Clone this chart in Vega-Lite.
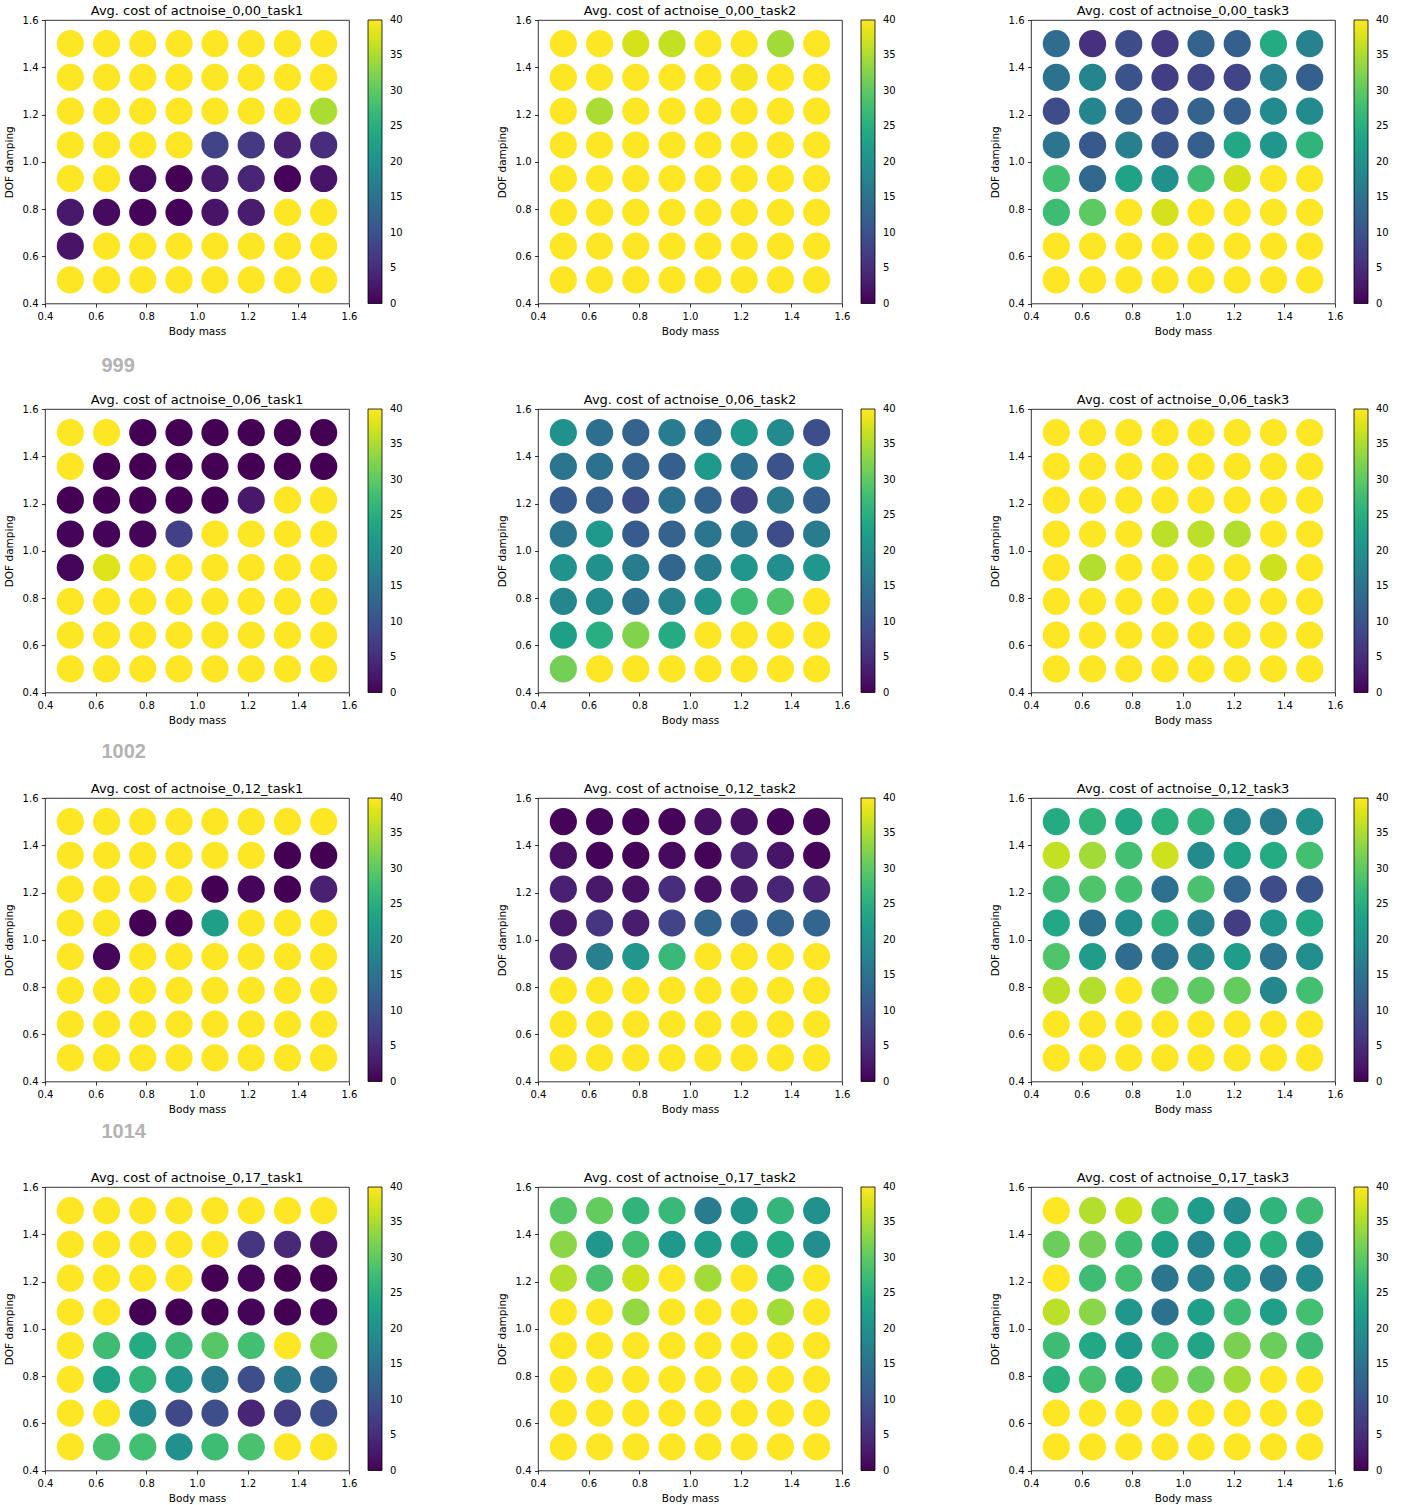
{
  "$schema": "https://vega.github.io/schema/vega-lite/v6.json",
  "background": "white",
  "padding": {"left": 3, "top": 4, "right": 5, "bottom": 3},
  "config": {
    "font": "DejaVu Sans",
    "view": {"stroke": "black", "strokeWidth": 0.8},
    "axis": {"grid": false, "domain": false, "tickSize": 3.5, "tickColor": "black", "tickWidth": 0.8, "labelFontSize": 10, "labelColor": "black", "labelPadding": 3.5, "labelFlush": false, "labelOverlap": false, "titleFontSize": 10.5, "titleFontWeight": "normal", "titleColor": "black"},
    "axisX": {"titlePadding": 5, "labelPadding": 4.5},
    "axisY": {"titlePadding": 8},
    "title": {"fontSize": 13, "fontWeight": "normal", "anchor": "middle", "frame": "group", "offset": -3, "color": "black"},
    "legend": {"gradientLength": 283.5, "gradientThickness": 14, "offset": 19, "labelFontSize": 10, "labelColor": "black", "gradientStrokeColor": "black", "gradientStrokeWidth": 0.8, "labelBaseline": "middle", "labelOverlap": false, "padding": 0},
    "circle": {"size": 740, "opacity": 1}
  },
  "columns": 3,
  "spacing": {"row": 105, "column": 189},
  "bounds": "flush",
  "resolve": {"scale": {"color": "independent"}, "legend": {"color": "independent"}},
  "concat": [
    {
      "width": 304, "height": 283.5,
      "title": "Avg. cost of actnoise_0,00_task1",
      "layer": [
        {
          "data": {"values": [
            {"mass":0.5,"damping":1.5,"cost":40},{"mass":0.643,"damping":1.5,"cost":40},{"mass":0.786,"damping":1.5,"cost":40},{"mass":0.929,"damping":1.5,"cost":40},{"mass":1.071,"damping":1.5,"cost":40},{"mass":1.214,"damping":1.5,"cost":40},{"mass":1.357,"damping":1.5,"cost":40},{"mass":1.5,"damping":1.5,"cost":40},
            {"mass":0.5,"damping":1.357,"cost":40},{"mass":0.643,"damping":1.357,"cost":40},{"mass":0.786,"damping":1.357,"cost":40},{"mass":0.929,"damping":1.357,"cost":40},{"mass":1.071,"damping":1.357,"cost":40},{"mass":1.214,"damping":1.357,"cost":40},{"mass":1.357,"damping":1.357,"cost":40},{"mass":1.5,"damping":1.357,"cost":40},
            {"mass":0.5,"damping":1.214,"cost":40},{"mass":0.643,"damping":1.214,"cost":40},{"mass":0.786,"damping":1.214,"cost":40},{"mass":0.929,"damping":1.214,"cost":40},{"mass":1.071,"damping":1.214,"cost":40},{"mass":1.214,"damping":1.214,"cost":40},{"mass":1.357,"damping":1.214,"cost":40},{"mass":1.5,"damping":1.214,"cost":35},
            {"mass":0.5,"damping":1.071,"cost":40},{"mass":0.643,"damping":1.071,"cost":40},{"mass":0.786,"damping":1.071,"cost":40},{"mass":0.929,"damping":1.071,"cost":40},{"mass":1.071,"damping":1.071,"cost":8},{"mass":1.214,"damping":1.071,"cost":6.5},{"mass":1.357,"damping":1.071,"cost":3.5},{"mass":1.5,"damping":1.071,"cost":5},
            {"mass":0.5,"damping":0.929,"cost":40},{"mass":0.643,"damping":0.929,"cost":40},{"mass":0.786,"damping":0.929,"cost":1},{"mass":0.929,"damping":0.929,"cost":0},{"mass":1.071,"damping":0.929,"cost":2.5},{"mass":1.214,"damping":0.929,"cost":4},{"mass":1.357,"damping":0.929,"cost":0.3},{"mass":1.5,"damping":0.929,"cost":2},
            {"mass":0.5,"damping":0.786,"cost":2.5},{"mass":0.643,"damping":0.786,"cost":1},{"mass":0.786,"damping":0.786,"cost":0.3},{"mass":0.929,"damping":0.786,"cost":0.2},{"mass":1.071,"damping":0.786,"cost":2},{"mass":1.214,"damping":0.786,"cost":3},{"mass":1.357,"damping":0.786,"cost":40},{"mass":1.5,"damping":0.786,"cost":40},
            {"mass":0.5,"damping":0.643,"cost":2},{"mass":0.643,"damping":0.643,"cost":40},{"mass":0.786,"damping":0.643,"cost":40},{"mass":0.929,"damping":0.643,"cost":40},{"mass":1.071,"damping":0.643,"cost":40},{"mass":1.214,"damping":0.643,"cost":40},{"mass":1.357,"damping":0.643,"cost":40},{"mass":1.5,"damping":0.643,"cost":40},
            {"mass":0.5,"damping":0.5,"cost":40},{"mass":0.643,"damping":0.5,"cost":40},{"mass":0.786,"damping":0.5,"cost":40},{"mass":0.929,"damping":0.5,"cost":40},{"mass":1.071,"damping":0.5,"cost":40},{"mass":1.214,"damping":0.5,"cost":40},{"mass":1.357,"damping":0.5,"cost":40},{"mass":1.5,"damping":0.5,"cost":40}
          ]},
          "mark": "circle",
          "encoding": {
            "x": {"field": "mass", "type": "quantitative", "title": "Body mass", "scale": {"domain": [0.4, 1.6], "nice": false, "zero": false}, "axis": {"values": [0.4, 0.6, 0.8, 1.0, 1.2, 1.4, 1.6], "format": ".1f"}},
            "y": {"field": "damping", "type": "quantitative", "title": "DOF damping", "scale": {"domain": [0.4, 1.6], "nice": false, "zero": false}, "axis": {"values": [0.4, 0.6, 0.8, 1.0, 1.2, 1.4, 1.6], "format": ".1f"}},
            "color": {"field": "cost", "type": "quantitative", "scale": {"scheme": "viridis", "domain": [0, 40], "clamp": true}, "legend": {"title": null, "values": [0, 5, 10, 15, 20, 25, 30, 35, 40], "encode": {"labels": {"update": {"baseline": {"value": "middle"}, "dx": {"value": 6}}}}}}
          }
        },
        {
          "data": {"values": [{"seed": "999"}]},
          "mark": {"type": "text", "align": "left", "baseline": "alphabetic", "font": "Liberation Sans", "fontSize": 20, "fontWeight": "bold", "color": "#b3b3b3"},
          "encoding": {"text": {"field": "seed"}, "x": {"datum": 0.623}, "y": {"datum": 0.108}}
        }
      ]
    },
    {
      "width": 304, "height": 283.5,
      "title": "Avg. cost of actnoise_0,00_task2",
      "data": {"values": [
        {"mass":0.5,"damping":1.5,"cost":40},{"mass":0.643,"damping":1.5,"cost":40},{"mass":0.786,"damping":1.5,"cost":37.5},{"mass":0.929,"damping":1.5,"cost":36.5},{"mass":1.071,"damping":1.5,"cost":40},{"mass":1.214,"damping":1.5,"cost":40},{"mass":1.357,"damping":1.5,"cost":34.5},{"mass":1.5,"damping":1.5,"cost":40},
        {"mass":0.5,"damping":1.357,"cost":40},{"mass":0.643,"damping":1.357,"cost":40},{"mass":0.786,"damping":1.357,"cost":40},{"mass":0.929,"damping":1.357,"cost":40},{"mass":1.071,"damping":1.357,"cost":40},{"mass":1.214,"damping":1.357,"cost":39.5},{"mass":1.357,"damping":1.357,"cost":40},{"mass":1.5,"damping":1.357,"cost":40},
        {"mass":0.5,"damping":1.214,"cost":40},{"mass":0.643,"damping":1.214,"cost":35},{"mass":0.786,"damping":1.214,"cost":40},{"mass":0.929,"damping":1.214,"cost":40},{"mass":1.071,"damping":1.214,"cost":40},{"mass":1.214,"damping":1.214,"cost":40},{"mass":1.357,"damping":1.214,"cost":40},{"mass":1.5,"damping":1.214,"cost":40},
        {"mass":0.5,"damping":1.071,"cost":40},{"mass":0.643,"damping":1.071,"cost":40},{"mass":0.786,"damping":1.071,"cost":40},{"mass":0.929,"damping":1.071,"cost":40},{"mass":1.071,"damping":1.071,"cost":40},{"mass":1.214,"damping":1.071,"cost":40},{"mass":1.357,"damping":1.071,"cost":40},{"mass":1.5,"damping":1.071,"cost":40},
        {"mass":0.5,"damping":0.929,"cost":40},{"mass":0.643,"damping":0.929,"cost":40},{"mass":0.786,"damping":0.929,"cost":40},{"mass":0.929,"damping":0.929,"cost":40},{"mass":1.071,"damping":0.929,"cost":40},{"mass":1.214,"damping":0.929,"cost":40},{"mass":1.357,"damping":0.929,"cost":40},{"mass":1.5,"damping":0.929,"cost":40},
        {"mass":0.5,"damping":0.786,"cost":40},{"mass":0.643,"damping":0.786,"cost":40},{"mass":0.786,"damping":0.786,"cost":40},{"mass":0.929,"damping":0.786,"cost":40},{"mass":1.071,"damping":0.786,"cost":40},{"mass":1.214,"damping":0.786,"cost":40},{"mass":1.357,"damping":0.786,"cost":40},{"mass":1.5,"damping":0.786,"cost":40},
        {"mass":0.5,"damping":0.643,"cost":40},{"mass":0.643,"damping":0.643,"cost":40},{"mass":0.786,"damping":0.643,"cost":40},{"mass":0.929,"damping":0.643,"cost":40},{"mass":1.071,"damping":0.643,"cost":40},{"mass":1.214,"damping":0.643,"cost":40},{"mass":1.357,"damping":0.643,"cost":40},{"mass":1.5,"damping":0.643,"cost":40},
        {"mass":0.5,"damping":0.5,"cost":40},{"mass":0.643,"damping":0.5,"cost":40},{"mass":0.786,"damping":0.5,"cost":40},{"mass":0.929,"damping":0.5,"cost":40},{"mass":1.071,"damping":0.5,"cost":40},{"mass":1.214,"damping":0.5,"cost":40},{"mass":1.357,"damping":0.5,"cost":40},{"mass":1.5,"damping":0.5,"cost":40}
      ]},
      "mark": "circle",
      "encoding": {
        "x": {"field": "mass", "type": "quantitative", "title": "Body mass", "scale": {"domain": [0.4, 1.6], "nice": false, "zero": false}, "axis": {"values": [0.4, 0.6, 0.8, 1.0, 1.2, 1.4, 1.6], "format": ".1f"}},
        "y": {"field": "damping", "type": "quantitative", "title": "DOF damping", "scale": {"domain": [0.4, 1.6], "nice": false, "zero": false}, "axis": {"values": [0.4, 0.6, 0.8, 1.0, 1.2, 1.4, 1.6], "format": ".1f"}},
        "color": {"field": "cost", "type": "quantitative", "scale": {"scheme": "viridis", "domain": [0, 40], "clamp": true}, "legend": {"title": null, "values": [0, 5, 10, 15, 20, 25, 30, 35, 40], "encode": {"labels": {"update": {"baseline": {"value": "middle"}, "dx": {"value": 6}}}}}}
      }
    },
    {
      "width": 304, "height": 283.5,
      "title": "Avg. cost of actnoise_0,00_task3",
      "data": {"values": [
        {"mass":0.5,"damping":1.5,"cost":14},{"mass":0.643,"damping":1.5,"cost":5.5},{"mass":0.786,"damping":1.5,"cost":9},{"mass":0.929,"damping":1.5,"cost":6.5},{"mass":1.071,"damping":1.5,"cost":12.5},{"mass":1.214,"damping":1.5,"cost":12},{"mass":1.357,"damping":1.5,"cost":24.5},{"mass":1.5,"damping":1.5,"cost":17.5},
        {"mass":0.5,"damping":1.357,"cost":15},{"mass":0.643,"damping":1.357,"cost":18},{"mass":0.786,"damping":1.357,"cost":10},{"mass":0.929,"damping":1.357,"cost":7},{"mass":1.071,"damping":1.357,"cost":8},{"mass":1.214,"damping":1.357,"cost":8},{"mass":1.357,"damping":1.357,"cost":17.5},{"mass":1.5,"damping":1.357,"cost":12},
        {"mass":0.5,"damping":1.214,"cost":9},{"mass":0.643,"damping":1.214,"cost":18},{"mass":0.786,"damping":1.214,"cost":12},{"mass":0.929,"damping":1.214,"cost":9.5},{"mass":1.071,"damping":1.214,"cost":12.5},{"mass":1.214,"damping":1.214,"cost":12},{"mass":1.357,"damping":1.214,"cost":19},{"mass":1.5,"damping":1.214,"cost":19},
        {"mass":0.5,"damping":1.071,"cost":15.5},{"mass":0.643,"damping":1.071,"cost":11},{"mass":0.786,"damping":1.071,"cost":17},{"mass":0.929,"damping":1.071,"cost":10.5},{"mass":1.071,"damping":1.071,"cost":12},{"mass":1.214,"damping":1.071,"cost":24},{"mass":1.357,"damping":1.071,"cost":21},{"mass":1.5,"damping":1.071,"cost":26},
        {"mass":0.5,"damping":0.929,"cost":28},{"mass":0.643,"damping":0.929,"cost":13.5},{"mass":0.786,"damping":0.929,"cost":23},{"mass":0.929,"damping":0.929,"cost":20},{"mass":1.071,"damping":0.929,"cost":27.5},{"mass":1.214,"damping":0.929,"cost":37.5},{"mass":1.357,"damping":0.929,"cost":40},{"mass":1.5,"damping":0.929,"cost":40},
        {"mass":0.5,"damping":0.786,"cost":27.5},{"mass":0.643,"damping":0.786,"cost":30},{"mass":0.786,"damping":0.786,"cost":40},{"mass":0.929,"damping":0.786,"cost":37.5},{"mass":1.071,"damping":0.786,"cost":40},{"mass":1.214,"damping":0.786,"cost":40},{"mass":1.357,"damping":0.786,"cost":40},{"mass":1.5,"damping":0.786,"cost":40},
        {"mass":0.5,"damping":0.643,"cost":40},{"mass":0.643,"damping":0.643,"cost":40},{"mass":0.786,"damping":0.643,"cost":40},{"mass":0.929,"damping":0.643,"cost":40},{"mass":1.071,"damping":0.643,"cost":40},{"mass":1.214,"damping":0.643,"cost":40},{"mass":1.357,"damping":0.643,"cost":40},{"mass":1.5,"damping":0.643,"cost":40},
        {"mass":0.5,"damping":0.5,"cost":40},{"mass":0.643,"damping":0.5,"cost":40},{"mass":0.786,"damping":0.5,"cost":40},{"mass":0.929,"damping":0.5,"cost":40},{"mass":1.071,"damping":0.5,"cost":40},{"mass":1.214,"damping":0.5,"cost":40},{"mass":1.357,"damping":0.5,"cost":40},{"mass":1.5,"damping":0.5,"cost":40}
      ]},
      "mark": "circle",
      "encoding": {
        "x": {"field": "mass", "type": "quantitative", "title": "Body mass", "scale": {"domain": [0.4, 1.6], "nice": false, "zero": false}, "axis": {"values": [0.4, 0.6, 0.8, 1.0, 1.2, 1.4, 1.6], "format": ".1f"}},
        "y": {"field": "damping", "type": "quantitative", "title": "DOF damping", "scale": {"domain": [0.4, 1.6], "nice": false, "zero": false}, "axis": {"values": [0.4, 0.6, 0.8, 1.0, 1.2, 1.4, 1.6], "format": ".1f"}},
        "color": {"field": "cost", "type": "quantitative", "scale": {"scheme": "viridis", "domain": [0, 40], "clamp": true}, "legend": {"title": null, "values": [0, 5, 10, 15, 20, 25, 30, 35, 40], "encode": {"labels": {"update": {"baseline": {"value": "middle"}, "dx": {"value": 6}}}}}}
      }
    },
    {
      "width": 304, "height": 283.5,
      "title": "Avg. cost of actnoise_0,06_task1",
      "layer": [
        {
          "data": {"values": [
            {"mass":0.5,"damping":1.5,"cost":40},{"mass":0.643,"damping":1.5,"cost":40},{"mass":0.786,"damping":1.5,"cost":0},{"mass":0.929,"damping":1.5,"cost":0},{"mass":1.071,"damping":1.5,"cost":0},{"mass":1.214,"damping":1.5,"cost":0},{"mass":1.357,"damping":1.5,"cost":0},{"mass":1.5,"damping":1.5,"cost":0},
            {"mass":0.5,"damping":1.357,"cost":40},{"mass":0.643,"damping":1.357,"cost":0},{"mass":0.786,"damping":1.357,"cost":0},{"mass":0.929,"damping":1.357,"cost":0},{"mass":1.071,"damping":1.357,"cost":0},{"mass":1.214,"damping":1.357,"cost":0},{"mass":1.357,"damping":1.357,"cost":0},{"mass":1.5,"damping":1.357,"cost":0},
            {"mass":0.5,"damping":1.214,"cost":0},{"mass":0.643,"damping":1.214,"cost":0},{"mass":0.786,"damping":1.214,"cost":0},{"mass":0.929,"damping":1.214,"cost":0},{"mass":1.071,"damping":1.214,"cost":0},{"mass":1.214,"damping":1.214,"cost":2.5},{"mass":1.357,"damping":1.214,"cost":40},{"mass":1.5,"damping":1.214,"cost":40},
            {"mass":0.5,"damping":1.071,"cost":0.3},{"mass":0.643,"damping":1.071,"cost":0.3},{"mass":0.786,"damping":1.071,"cost":0.3},{"mass":0.929,"damping":1.071,"cost":7.5},{"mass":1.071,"damping":1.071,"cost":40},{"mass":1.214,"damping":1.071,"cost":40},{"mass":1.357,"damping":1.071,"cost":40},{"mass":1.5,"damping":1.071,"cost":40},
            {"mass":0.5,"damping":0.929,"cost":0.5},{"mass":0.643,"damping":0.929,"cost":38},{"mass":0.786,"damping":0.929,"cost":40},{"mass":0.929,"damping":0.929,"cost":40},{"mass":1.071,"damping":0.929,"cost":40},{"mass":1.214,"damping":0.929,"cost":40},{"mass":1.357,"damping":0.929,"cost":40},{"mass":1.5,"damping":0.929,"cost":40},
            {"mass":0.5,"damping":0.786,"cost":40},{"mass":0.643,"damping":0.786,"cost":40},{"mass":0.786,"damping":0.786,"cost":40},{"mass":0.929,"damping":0.786,"cost":40},{"mass":1.071,"damping":0.786,"cost":40},{"mass":1.214,"damping":0.786,"cost":40},{"mass":1.357,"damping":0.786,"cost":40},{"mass":1.5,"damping":0.786,"cost":40},
            {"mass":0.5,"damping":0.643,"cost":40},{"mass":0.643,"damping":0.643,"cost":40},{"mass":0.786,"damping":0.643,"cost":40},{"mass":0.929,"damping":0.643,"cost":40},{"mass":1.071,"damping":0.643,"cost":40},{"mass":1.214,"damping":0.643,"cost":40},{"mass":1.357,"damping":0.643,"cost":40},{"mass":1.5,"damping":0.643,"cost":40},
            {"mass":0.5,"damping":0.5,"cost":40},{"mass":0.643,"damping":0.5,"cost":40},{"mass":0.786,"damping":0.5,"cost":40},{"mass":0.929,"damping":0.5,"cost":40},{"mass":1.071,"damping":0.5,"cost":40},{"mass":1.214,"damping":0.5,"cost":40},{"mass":1.357,"damping":0.5,"cost":40},{"mass":1.5,"damping":0.5,"cost":40}
          ]},
          "mark": "circle",
          "encoding": {
            "x": {"field": "mass", "type": "quantitative", "title": "Body mass", "scale": {"domain": [0.4, 1.6], "nice": false, "zero": false}, "axis": {"values": [0.4, 0.6, 0.8, 1.0, 1.2, 1.4, 1.6], "format": ".1f"}},
            "y": {"field": "damping", "type": "quantitative", "title": "DOF damping", "scale": {"domain": [0.4, 1.6], "nice": false, "zero": false}, "axis": {"values": [0.4, 0.6, 0.8, 1.0, 1.2, 1.4, 1.6], "format": ".1f"}},
            "color": {"field": "cost", "type": "quantitative", "scale": {"scheme": "viridis", "domain": [0, 40], "clamp": true}, "legend": {"title": null, "values": [0, 5, 10, 15, 20, 25, 30, 35, 40], "encode": {"labels": {"update": {"baseline": {"value": "middle"}, "dx": {"value": 6}}}}}}
          }
        },
        {
          "data": {"values": [{"seed": "1002"}]},
          "mark": {"type": "text", "align": "left", "baseline": "alphabetic", "font": "Liberation Sans", "fontSize": 20, "fontWeight": "bold", "color": "#b3b3b3"},
          "encoding": {"text": {"field": "seed"}, "x": {"datum": 0.623}, "y": {"datum": 0.121}}
        }
      ]
    },
    {
      "width": 304, "height": 283.5,
      "title": "Avg. cost of actnoise_0,06_task2",
      "data": {"values": [
        {"mass":0.5,"damping":1.5,"cost":20},{"mass":0.643,"damping":1.5,"cost":14.5},{"mass":0.786,"damping":1.5,"cost":12.5},{"mass":0.929,"damping":1.5,"cost":16.5},{"mass":1.071,"damping":1.5,"cost":14.5},{"mass":1.214,"damping":1.5,"cost":21.5},{"mass":1.357,"damping":1.5,"cost":19},{"mass":1.5,"damping":1.5,"cost":9.5},
        {"mass":0.5,"damping":1.357,"cost":15.5},{"mass":0.643,"damping":1.357,"cost":15},{"mass":0.786,"damping":1.357,"cost":12.5},{"mass":0.929,"damping":1.357,"cost":12},{"mass":1.071,"damping":1.357,"cost":21.5},{"mass":1.214,"damping":1.357,"cost":14.5},{"mass":1.357,"damping":1.357,"cost":10},{"mass":1.5,"damping":1.357,"cost":20},
        {"mass":0.5,"damping":1.214,"cost":11.5},{"mass":0.643,"damping":1.214,"cost":12},{"mass":0.786,"damping":1.214,"cost":9.5},{"mass":0.929,"damping":1.214,"cost":15},{"mass":1.071,"damping":1.214,"cost":12.5},{"mass":1.214,"damping":1.214,"cost":7},{"mass":1.357,"damping":1.214,"cost":16.5},{"mass":1.5,"damping":1.214,"cost":12},
        {"mass":0.5,"damping":1.071,"cost":15.5},{"mass":0.643,"damping":1.071,"cost":21.5},{"mass":0.786,"damping":1.071,"cost":11.5},{"mass":0.929,"damping":1.071,"cost":12.5},{"mass":1.071,"damping":1.071,"cost":15.5},{"mass":1.214,"damping":1.071,"cost":15.5},{"mass":1.357,"damping":1.071,"cost":9},{"mass":1.5,"damping":1.071,"cost":16.5},
        {"mass":0.5,"damping":0.929,"cost":20.5},{"mass":0.643,"damping":0.929,"cost":20},{"mass":0.786,"damping":0.929,"cost":16.5},{"mass":0.929,"damping":0.929,"cost":13},{"mass":1.071,"damping":0.929,"cost":16.5},{"mass":1.214,"damping":0.929,"cost":21},{"mass":1.357,"damping":0.929,"cost":19.5},{"mass":1.5,"damping":0.929,"cost":21},
        {"mass":0.5,"damping":0.786,"cost":18.5},{"mass":0.643,"damping":0.786,"cost":19},{"mass":0.786,"damping":0.786,"cost":15},{"mass":0.929,"damping":0.786,"cost":17.5},{"mass":1.071,"damping":0.786,"cost":20.5},{"mass":1.214,"damping":0.786,"cost":27.5},{"mass":1.357,"damping":0.786,"cost":29},{"mass":1.5,"damping":0.786,"cost":40},
        {"mass":0.5,"damping":0.643,"cost":22.5},{"mass":0.643,"damping":0.643,"cost":25},{"mass":0.786,"damping":0.643,"cost":32.5},{"mass":0.929,"damping":0.643,"cost":24.5},{"mass":1.071,"damping":0.643,"cost":40},{"mass":1.214,"damping":0.643,"cost":40},{"mass":1.357,"damping":0.643,"cost":40},{"mass":1.5,"damping":0.643,"cost":40},
        {"mass":0.5,"damping":0.5,"cost":31.5},{"mass":0.643,"damping":0.5,"cost":40},{"mass":0.786,"damping":0.5,"cost":40},{"mass":0.929,"damping":0.5,"cost":40},{"mass":1.071,"damping":0.5,"cost":40},{"mass":1.214,"damping":0.5,"cost":40},{"mass":1.357,"damping":0.5,"cost":40},{"mass":1.5,"damping":0.5,"cost":40}
      ]},
      "mark": "circle",
      "encoding": {
        "x": {"field": "mass", "type": "quantitative", "title": "Body mass", "scale": {"domain": [0.4, 1.6], "nice": false, "zero": false}, "axis": {"values": [0.4, 0.6, 0.8, 1.0, 1.2, 1.4, 1.6], "format": ".1f"}},
        "y": {"field": "damping", "type": "quantitative", "title": "DOF damping", "scale": {"domain": [0.4, 1.6], "nice": false, "zero": false}, "axis": {"values": [0.4, 0.6, 0.8, 1.0, 1.2, 1.4, 1.6], "format": ".1f"}},
        "color": {"field": "cost", "type": "quantitative", "scale": {"scheme": "viridis", "domain": [0, 40], "clamp": true}, "legend": {"title": null, "values": [0, 5, 10, 15, 20, 25, 30, 35, 40], "encode": {"labels": {"update": {"baseline": {"value": "middle"}, "dx": {"value": 6}}}}}}
      }
    },
    {
      "width": 304, "height": 283.5,
      "title": "Avg. cost of actnoise_0,06_task3",
      "data": {"values": [
        {"mass":0.5,"damping":1.5,"cost":40},{"mass":0.643,"damping":1.5,"cost":40},{"mass":0.786,"damping":1.5,"cost":40},{"mass":0.929,"damping":1.5,"cost":40},{"mass":1.071,"damping":1.5,"cost":40},{"mass":1.214,"damping":1.5,"cost":40},{"mass":1.357,"damping":1.5,"cost":40},{"mass":1.5,"damping":1.5,"cost":40},
        {"mass":0.5,"damping":1.357,"cost":40},{"mass":0.643,"damping":1.357,"cost":40},{"mass":0.786,"damping":1.357,"cost":40},{"mass":0.929,"damping":1.357,"cost":40},{"mass":1.071,"damping":1.357,"cost":40},{"mass":1.214,"damping":1.357,"cost":40},{"mass":1.357,"damping":1.357,"cost":40},{"mass":1.5,"damping":1.357,"cost":40},
        {"mass":0.5,"damping":1.214,"cost":40},{"mass":0.643,"damping":1.214,"cost":40},{"mass":0.786,"damping":1.214,"cost":40},{"mass":0.929,"damping":1.214,"cost":40},{"mass":1.071,"damping":1.214,"cost":40},{"mass":1.214,"damping":1.214,"cost":40},{"mass":1.357,"damping":1.214,"cost":40},{"mass":1.5,"damping":1.214,"cost":40},
        {"mass":0.5,"damping":1.071,"cost":40},{"mass":0.643,"damping":1.071,"cost":40},{"mass":0.786,"damping":1.071,"cost":40},{"mass":0.929,"damping":1.071,"cost":36},{"mass":1.071,"damping":1.071,"cost":36},{"mass":1.214,"damping":1.071,"cost":35.5},{"mass":1.357,"damping":1.071,"cost":40},{"mass":1.5,"damping":1.071,"cost":40},
        {"mass":0.5,"damping":0.929,"cost":40},{"mass":0.643,"damping":0.929,"cost":35.5},{"mass":0.786,"damping":0.929,"cost":40},{"mass":0.929,"damping":0.929,"cost":40},{"mass":1.071,"damping":0.929,"cost":40},{"mass":1.214,"damping":0.929,"cost":40},{"mass":1.357,"damping":0.929,"cost":37},{"mass":1.5,"damping":0.929,"cost":40},
        {"mass":0.5,"damping":0.786,"cost":40},{"mass":0.643,"damping":0.786,"cost":40},{"mass":0.786,"damping":0.786,"cost":40},{"mass":0.929,"damping":0.786,"cost":40},{"mass":1.071,"damping":0.786,"cost":40},{"mass":1.214,"damping":0.786,"cost":40},{"mass":1.357,"damping":0.786,"cost":40},{"mass":1.5,"damping":0.786,"cost":40},
        {"mass":0.5,"damping":0.643,"cost":40},{"mass":0.643,"damping":0.643,"cost":40},{"mass":0.786,"damping":0.643,"cost":40},{"mass":0.929,"damping":0.643,"cost":40},{"mass":1.071,"damping":0.643,"cost":40},{"mass":1.214,"damping":0.643,"cost":40},{"mass":1.357,"damping":0.643,"cost":40},{"mass":1.5,"damping":0.643,"cost":40},
        {"mass":0.5,"damping":0.5,"cost":40},{"mass":0.643,"damping":0.5,"cost":40},{"mass":0.786,"damping":0.5,"cost":40},{"mass":0.929,"damping":0.5,"cost":40},{"mass":1.071,"damping":0.5,"cost":40},{"mass":1.214,"damping":0.5,"cost":40},{"mass":1.357,"damping":0.5,"cost":40},{"mass":1.5,"damping":0.5,"cost":40}
      ]},
      "mark": "circle",
      "encoding": {
        "x": {"field": "mass", "type": "quantitative", "title": "Body mass", "scale": {"domain": [0.4, 1.6], "nice": false, "zero": false}, "axis": {"values": [0.4, 0.6, 0.8, 1.0, 1.2, 1.4, 1.6], "format": ".1f"}},
        "y": {"field": "damping", "type": "quantitative", "title": "DOF damping", "scale": {"domain": [0.4, 1.6], "nice": false, "zero": false}, "axis": {"values": [0.4, 0.6, 0.8, 1.0, 1.2, 1.4, 1.6], "format": ".1f"}},
        "color": {"field": "cost", "type": "quantitative", "scale": {"scheme": "viridis", "domain": [0, 40], "clamp": true}, "legend": {"title": null, "values": [0, 5, 10, 15, 20, 25, 30, 35, 40], "encode": {"labels": {"update": {"baseline": {"value": "middle"}, "dx": {"value": 6}}}}}}
      }
    },
    {
      "width": 304, "height": 283.5,
      "title": "Avg. cost of actnoise_0,12_task1",
      "layer": [
        {
          "data": {"values": [
            {"mass":0.5,"damping":1.5,"cost":40},{"mass":0.643,"damping":1.5,"cost":40},{"mass":0.786,"damping":1.5,"cost":40},{"mass":0.929,"damping":1.5,"cost":40},{"mass":1.071,"damping":1.5,"cost":40},{"mass":1.214,"damping":1.5,"cost":40},{"mass":1.357,"damping":1.5,"cost":40},{"mass":1.5,"damping":1.5,"cost":40},
            {"mass":0.5,"damping":1.357,"cost":40},{"mass":0.643,"damping":1.357,"cost":40},{"mass":0.786,"damping":1.357,"cost":40},{"mass":0.929,"damping":1.357,"cost":40},{"mass":1.071,"damping":1.357,"cost":40},{"mass":1.214,"damping":1.357,"cost":40},{"mass":1.357,"damping":1.357,"cost":0},{"mass":1.5,"damping":1.357,"cost":0},
            {"mass":0.5,"damping":1.214,"cost":40},{"mass":0.643,"damping":1.214,"cost":40},{"mass":0.786,"damping":1.214,"cost":40},{"mass":0.929,"damping":1.214,"cost":40},{"mass":1.071,"damping":1.214,"cost":0},{"mass":1.214,"damping":1.214,"cost":0.5},{"mass":1.357,"damping":1.214,"cost":0},{"mass":1.5,"damping":1.214,"cost":3.5},
            {"mass":0.5,"damping":1.071,"cost":40},{"mass":0.643,"damping":1.071,"cost":40},{"mass":0.786,"damping":1.071,"cost":0},{"mass":0.929,"damping":1.071,"cost":0},{"mass":1.071,"damping":1.071,"cost":22.5},{"mass":1.214,"damping":1.071,"cost":40},{"mass":1.357,"damping":1.071,"cost":40},{"mass":1.5,"damping":1.071,"cost":40},
            {"mass":0.5,"damping":0.929,"cost":40},{"mass":0.643,"damping":0.929,"cost":0.5},{"mass":0.786,"damping":0.929,"cost":40},{"mass":0.929,"damping":0.929,"cost":40},{"mass":1.071,"damping":0.929,"cost":40},{"mass":1.214,"damping":0.929,"cost":40},{"mass":1.357,"damping":0.929,"cost":40},{"mass":1.5,"damping":0.929,"cost":40},
            {"mass":0.5,"damping":0.786,"cost":40},{"mass":0.643,"damping":0.786,"cost":40},{"mass":0.786,"damping":0.786,"cost":40},{"mass":0.929,"damping":0.786,"cost":40},{"mass":1.071,"damping":0.786,"cost":40},{"mass":1.214,"damping":0.786,"cost":40},{"mass":1.357,"damping":0.786,"cost":40},{"mass":1.5,"damping":0.786,"cost":40},
            {"mass":0.5,"damping":0.643,"cost":40},{"mass":0.643,"damping":0.643,"cost":40},{"mass":0.786,"damping":0.643,"cost":40},{"mass":0.929,"damping":0.643,"cost":40},{"mass":1.071,"damping":0.643,"cost":40},{"mass":1.214,"damping":0.643,"cost":40},{"mass":1.357,"damping":0.643,"cost":40},{"mass":1.5,"damping":0.643,"cost":40},
            {"mass":0.5,"damping":0.5,"cost":40},{"mass":0.643,"damping":0.5,"cost":40},{"mass":0.786,"damping":0.5,"cost":40},{"mass":0.929,"damping":0.5,"cost":40},{"mass":1.071,"damping":0.5,"cost":40},{"mass":1.214,"damping":0.5,"cost":40},{"mass":1.357,"damping":0.5,"cost":40},{"mass":1.5,"damping":0.5,"cost":40}
          ]},
          "mark": "circle",
          "encoding": {
            "x": {"field": "mass", "type": "quantitative", "title": "Body mass", "scale": {"domain": [0.4, 1.6], "nice": false, "zero": false}, "axis": {"values": [0.4, 0.6, 0.8, 1.0, 1.2, 1.4, 1.6], "format": ".1f"}},
            "y": {"field": "damping", "type": "quantitative", "title": "DOF damping", "scale": {"domain": [0.4, 1.6], "nice": false, "zero": false}, "axis": {"values": [0.4, 0.6, 0.8, 1.0, 1.2, 1.4, 1.6], "format": ".1f"}},
            "color": {"field": "cost", "type": "quantitative", "scale": {"scheme": "viridis", "domain": [0, 40], "clamp": true}, "legend": {"title": null, "values": [0, 5, 10, 15, 20, 25, 30, 35, 40], "encode": {"labels": {"update": {"baseline": {"value": "middle"}, "dx": {"value": 6}}}}}}
          }
        },
        {
          "data": {"values": [{"seed": "1014"}]},
          "mark": {"type": "text", "align": "left", "baseline": "alphabetic", "font": "Liberation Sans", "fontSize": 20, "fontWeight": "bold", "color": "#b3b3b3"},
          "encoding": {"text": {"field": "seed"}, "x": {"datum": 0.623}, "y": {"datum": 0.159}}
        }
      ]
    },
    {
      "width": 304, "height": 283.5,
      "title": "Avg. cost of actnoise_0,12_task2",
      "data": {"values": [
        {"mass":0.5,"damping":1.5,"cost":0.3},{"mass":0.643,"damping":1.5,"cost":0.5},{"mass":0.786,"damping":1.5,"cost":0.3},{"mass":0.929,"damping":1.5,"cost":0.3},{"mass":1.071,"damping":1.5,"cost":1.5},{"mass":1.214,"damping":1.5,"cost":1.5},{"mass":1.357,"damping":1.5,"cost":0.3},{"mass":1.5,"damping":1.5,"cost":0.5},
        {"mass":0.5,"damping":1.357,"cost":1.5},{"mass":0.643,"damping":1.357,"cost":0.3},{"mass":0.786,"damping":1.357,"cost":0.3},{"mass":0.929,"damping":1.357,"cost":1},{"mass":1.071,"damping":1.357,"cost":0.3},{"mass":1.214,"damping":1.357,"cost":3.5},{"mass":1.357,"damping":1.357,"cost":2},{"mass":1.5,"damping":1.357,"cost":0.5},
        {"mass":0.5,"damping":1.214,"cost":3.5},{"mass":0.643,"damping":1.214,"cost":2.5},{"mass":0.786,"damping":1.214,"cost":1.5},{"mass":0.929,"damping":1.214,"cost":5},{"mass":1.071,"damping":1.214,"cost":1.5},{"mass":1.214,"damping":1.214,"cost":3},{"mass":1.357,"damping":1.214,"cost":4},{"mass":1.5,"damping":1.214,"cost":3.5},
        {"mass":0.5,"damping":1.071,"cost":2.5},{"mass":0.643,"damping":1.071,"cost":6},{"mass":0.786,"damping":1.071,"cost":3},{"mass":0.929,"damping":1.071,"cost":8},{"mass":1.071,"damping":1.071,"cost":13},{"mass":1.214,"damping":1.071,"cost":11.5},{"mass":1.357,"damping":1.071,"cost":12.5},{"mass":1.5,"damping":1.071,"cost":13},
        {"mass":0.5,"damping":0.929,"cost":3.5},{"mass":0.643,"damping":0.929,"cost":17},{"mass":0.786,"damping":0.929,"cost":21},{"mass":0.929,"damping":0.929,"cost":27},{"mass":1.071,"damping":0.929,"cost":40},{"mass":1.214,"damping":0.929,"cost":40},{"mass":1.357,"damping":0.929,"cost":40},{"mass":1.5,"damping":0.929,"cost":40},
        {"mass":0.5,"damping":0.786,"cost":40},{"mass":0.643,"damping":0.786,"cost":40},{"mass":0.786,"damping":0.786,"cost":40},{"mass":0.929,"damping":0.786,"cost":40},{"mass":1.071,"damping":0.786,"cost":40},{"mass":1.214,"damping":0.786,"cost":40},{"mass":1.357,"damping":0.786,"cost":40},{"mass":1.5,"damping":0.786,"cost":40},
        {"mass":0.5,"damping":0.643,"cost":40},{"mass":0.643,"damping":0.643,"cost":40},{"mass":0.786,"damping":0.643,"cost":40},{"mass":0.929,"damping":0.643,"cost":40},{"mass":1.071,"damping":0.643,"cost":40},{"mass":1.214,"damping":0.643,"cost":40},{"mass":1.357,"damping":0.643,"cost":40},{"mass":1.5,"damping":0.643,"cost":40},
        {"mass":0.5,"damping":0.5,"cost":40},{"mass":0.643,"damping":0.5,"cost":40},{"mass":0.786,"damping":0.5,"cost":40},{"mass":0.929,"damping":0.5,"cost":40},{"mass":1.071,"damping":0.5,"cost":40},{"mass":1.214,"damping":0.5,"cost":40},{"mass":1.357,"damping":0.5,"cost":40},{"mass":1.5,"damping":0.5,"cost":40}
      ]},
      "mark": "circle",
      "encoding": {
        "x": {"field": "mass", "type": "quantitative", "title": "Body mass", "scale": {"domain": [0.4, 1.6], "nice": false, "zero": false}, "axis": {"values": [0.4, 0.6, 0.8, 1.0, 1.2, 1.4, 1.6], "format": ".1f"}},
        "y": {"field": "damping", "type": "quantitative", "title": "DOF damping", "scale": {"domain": [0.4, 1.6], "nice": false, "zero": false}, "axis": {"values": [0.4, 0.6, 0.8, 1.0, 1.2, 1.4, 1.6], "format": ".1f"}},
        "color": {"field": "cost", "type": "quantitative", "scale": {"scheme": "viridis", "domain": [0, 40], "clamp": true}, "legend": {"title": null, "values": [0, 5, 10, 15, 20, 25, 30, 35, 40], "encode": {"labels": {"update": {"baseline": {"value": "middle"}, "dx": {"value": 6}}}}}}
      }
    },
    {
      "width": 304, "height": 283.5,
      "title": "Avg. cost of actnoise_0,12_task3",
      "data": {"values": [
        {"mass":0.5,"damping":1.5,"cost":24.5},{"mass":0.643,"damping":1.5,"cost":26},{"mass":0.786,"damping":1.5,"cost":24},{"mass":0.929,"damping":1.5,"cost":25.5},{"mass":1.071,"damping":1.5,"cost":26},{"mass":1.214,"damping":1.5,"cost":18},{"mass":1.357,"damping":1.5,"cost":16.5},{"mass":1.5,"damping":1.5,"cost":20},
        {"mass":0.5,"damping":1.357,"cost":36.5},{"mass":0.643,"damping":1.357,"cost":34.5},{"mass":0.786,"damping":1.357,"cost":28},{"mass":0.929,"damping":1.357,"cost":37},{"mass":1.071,"damping":1.357,"cost":19},{"mass":1.214,"damping":1.357,"cost":23},{"mass":1.357,"damping":1.357,"cost":24.5},{"mass":1.5,"damping":1.357,"cost":28},
        {"mass":0.5,"damping":1.214,"cost":27.5},{"mass":0.643,"damping":1.214,"cost":29},{"mass":0.786,"damping":1.214,"cost":28},{"mass":0.929,"damping":1.214,"cost":15},{"mass":1.071,"damping":1.214,"cost":28.5},{"mass":1.214,"damping":1.214,"cost":13},{"mass":1.357,"damping":1.214,"cost":9},{"mass":1.5,"damping":1.214,"cost":10.5},
        {"mass":0.5,"damping":1.071,"cost":24},{"mass":0.643,"damping":1.071,"cost":15},{"mass":0.786,"damping":1.071,"cost":19.5},{"mass":0.929,"damping":1.071,"cost":26},{"mass":1.071,"damping":1.071,"cost":17.5},{"mass":1.214,"damping":1.071,"cost":7},{"mass":1.357,"damping":1.071,"cost":21},{"mass":1.5,"damping":1.071,"cost":24},
        {"mass":0.5,"damping":0.929,"cost":29},{"mass":0.643,"damping":0.929,"cost":22},{"mass":0.786,"damping":0.929,"cost":14},{"mass":0.929,"damping":0.929,"cost":15},{"mass":1.071,"damping":0.929,"cost":18.5},{"mass":1.214,"damping":0.929,"cost":22},{"mass":1.357,"damping":0.929,"cost":15.5},{"mass":1.5,"damping":0.929,"cost":19.5},
        {"mass":0.5,"damping":0.786,"cost":36},{"mass":0.643,"damping":0.786,"cost":35.5},{"mass":0.786,"damping":0.786,"cost":40},{"mass":0.929,"damping":0.786,"cost":30.5},{"mass":1.071,"damping":0.786,"cost":30},{"mass":1.214,"damping":0.786,"cost":30.5},{"mass":1.357,"damping":0.786,"cost":18.5},{"mass":1.5,"damping":0.786,"cost":28},
        {"mass":0.5,"damping":0.643,"cost":40},{"mass":0.643,"damping":0.643,"cost":40},{"mass":0.786,"damping":0.643,"cost":40},{"mass":0.929,"damping":0.643,"cost":40},{"mass":1.071,"damping":0.643,"cost":40},{"mass":1.214,"damping":0.643,"cost":40},{"mass":1.357,"damping":0.643,"cost":40},{"mass":1.5,"damping":0.643,"cost":40},
        {"mass":0.5,"damping":0.5,"cost":40},{"mass":0.643,"damping":0.5,"cost":40},{"mass":0.786,"damping":0.5,"cost":40},{"mass":0.929,"damping":0.5,"cost":40},{"mass":1.071,"damping":0.5,"cost":40},{"mass":1.214,"damping":0.5,"cost":40},{"mass":1.357,"damping":0.5,"cost":40},{"mass":1.5,"damping":0.5,"cost":40}
      ]},
      "mark": "circle",
      "encoding": {
        "x": {"field": "mass", "type": "quantitative", "title": "Body mass", "scale": {"domain": [0.4, 1.6], "nice": false, "zero": false}, "axis": {"values": [0.4, 0.6, 0.8, 1.0, 1.2, 1.4, 1.6], "format": ".1f"}},
        "y": {"field": "damping", "type": "quantitative", "title": "DOF damping", "scale": {"domain": [0.4, 1.6], "nice": false, "zero": false}, "axis": {"values": [0.4, 0.6, 0.8, 1.0, 1.2, 1.4, 1.6], "format": ".1f"}},
        "color": {"field": "cost", "type": "quantitative", "scale": {"scheme": "viridis", "domain": [0, 40], "clamp": true}, "legend": {"title": null, "values": [0, 5, 10, 15, 20, 25, 30, 35, 40], "encode": {"labels": {"update": {"baseline": {"value": "middle"}, "dx": {"value": 6}}}}}}
      }
    },
    {
      "width": 304, "height": 283.5,
      "title": "Avg. cost of actnoise_0,17_task1",
      "data": {"values": [
        {"mass":0.5,"damping":1.5,"cost":40},{"mass":0.643,"damping":1.5,"cost":40},{"mass":0.786,"damping":1.5,"cost":40},{"mass":0.929,"damping":1.5,"cost":40},{"mass":1.071,"damping":1.5,"cost":40},{"mass":1.214,"damping":1.5,"cost":40},{"mass":1.357,"damping":1.5,"cost":40},{"mass":1.5,"damping":1.5,"cost":40},
        {"mass":0.5,"damping":1.357,"cost":40},{"mass":0.643,"damping":1.357,"cost":40},{"mass":0.786,"damping":1.357,"cost":40},{"mass":0.929,"damping":1.357,"cost":40},{"mass":1.071,"damping":1.357,"cost":40},{"mass":1.214,"damping":1.357,"cost":6},{"mass":1.357,"damping":1.357,"cost":4.5},{"mass":1.5,"damping":1.357,"cost":1.5},
        {"mass":0.5,"damping":1.214,"cost":40},{"mass":0.643,"damping":1.214,"cost":40},{"mass":0.786,"damping":1.214,"cost":40},{"mass":0.929,"damping":1.214,"cost":40},{"mass":1.071,"damping":1.214,"cost":0},{"mass":1.214,"damping":1.214,"cost":0.5},{"mass":1.357,"damping":1.214,"cost":0},{"mass":1.5,"damping":1.214,"cost":0},
        {"mass":0.5,"damping":1.071,"cost":40},{"mass":0.643,"damping":1.071,"cost":40},{"mass":0.786,"damping":1.071,"cost":0},{"mass":0.929,"damping":1.071,"cost":0},{"mass":1.071,"damping":1.071,"cost":0},{"mass":1.214,"damping":1.071,"cost":0.3},{"mass":1.357,"damping":1.071,"cost":0},{"mass":1.5,"damping":1.071,"cost":0.3},
        {"mass":0.5,"damping":0.929,"cost":40},{"mass":0.643,"damping":0.929,"cost":27.5},{"mass":0.786,"damping":0.929,"cost":24.5},{"mass":0.929,"damping":0.929,"cost":27},{"mass":1.071,"damping":0.929,"cost":29.5},{"mass":1.214,"damping":0.929,"cost":28},{"mass":1.357,"damping":0.929,"cost":40},{"mass":1.5,"damping":0.929,"cost":32.5},
        {"mass":0.5,"damping":0.786,"cost":40},{"mass":0.643,"damping":0.786,"cost":23},{"mass":0.786,"damping":0.786,"cost":26.5},{"mass":0.929,"damping":0.786,"cost":20.5},{"mass":1.071,"damping":0.786,"cost":16.5},{"mass":1.214,"damping":0.786,"cost":9.5},{"mass":1.357,"damping":0.786,"cost":16},{"mass":1.5,"damping":0.786,"cost":13.5},
        {"mass":0.5,"damping":0.643,"cost":40},{"mass":0.643,"damping":0.643,"cost":40},{"mass":0.786,"damping":0.643,"cost":19},{"mass":0.929,"damping":0.643,"cost":8.5},{"mass":1.071,"damping":0.643,"cost":9.5},{"mass":1.214,"damping":0.643,"cost":4},{"mass":1.357,"damping":0.643,"cost":7},{"mass":1.5,"damping":0.643,"cost":9.5},
        {"mass":0.5,"damping":0.5,"cost":40},{"mass":0.643,"damping":0.5,"cost":28.5},{"mass":0.786,"damping":0.5,"cost":28},{"mass":0.929,"damping":0.5,"cost":20},{"mass":1.071,"damping":0.5,"cost":27.5},{"mass":1.214,"damping":0.5,"cost":28.5},{"mass":1.357,"damping":0.5,"cost":40},{"mass":1.5,"damping":0.5,"cost":40}
      ]},
      "mark": "circle",
      "encoding": {
        "x": {"field": "mass", "type": "quantitative", "title": "Body mass", "scale": {"domain": [0.4, 1.6], "nice": false, "zero": false}, "axis": {"values": [0.4, 0.6, 0.8, 1.0, 1.2, 1.4, 1.6], "format": ".1f"}},
        "y": {"field": "damping", "type": "quantitative", "title": "DOF damping", "scale": {"domain": [0.4, 1.6], "nice": false, "zero": false}, "axis": {"values": [0.4, 0.6, 0.8, 1.0, 1.2, 1.4, 1.6], "format": ".1f"}},
        "color": {"field": "cost", "type": "quantitative", "scale": {"scheme": "viridis", "domain": [0, 40], "clamp": true}, "legend": {"title": null, "values": [0, 5, 10, 15, 20, 25, 30, 35, 40], "encode": {"labels": {"update": {"baseline": {"value": "middle"}, "dx": {"value": 6}}}}}}
      }
    },
    {
      "width": 304, "height": 283.5,
      "title": "Avg. cost of actnoise_0,17_task2",
      "data": {"values": [
        {"mass":0.5,"damping":1.5,"cost":29.5},{"mass":0.643,"damping":1.5,"cost":30.5},{"mass":0.786,"damping":1.5,"cost":26},{"mass":0.929,"damping":1.5,"cost":27},{"mass":1.071,"damping":1.5,"cost":16.5},{"mass":1.214,"damping":1.5,"cost":20.5},{"mass":1.357,"damping":1.5,"cost":26.5},{"mass":1.5,"damping":1.5,"cost":20},
        {"mass":0.5,"damping":1.357,"cost":33},{"mass":0.643,"damping":1.357,"cost":21},{"mass":0.786,"damping":1.357,"cost":28},{"mass":0.929,"damping":1.357,"cost":21.5},{"mass":1.071,"damping":1.357,"cost":22},{"mass":1.214,"damping":1.357,"cost":22.5},{"mass":1.357,"damping":1.357,"cost":24.5},{"mass":1.5,"damping":1.357,"cost":19.5},
        {"mass":0.5,"damping":1.214,"cost":35.5},{"mass":0.643,"damping":1.214,"cost":28.5},{"mass":0.786,"damping":1.214,"cost":37},{"mass":0.929,"damping":1.214,"cost":40},{"mass":1.071,"damping":1.214,"cost":34.5},{"mass":1.214,"damping":1.214,"cost":40},{"mass":1.357,"damping":1.214,"cost":26},{"mass":1.5,"damping":1.214,"cost":40},
        {"mass":0.5,"damping":1.071,"cost":40},{"mass":0.643,"damping":1.071,"cost":40},{"mass":0.786,"damping":1.071,"cost":33.5},{"mass":0.929,"damping":1.071,"cost":40},{"mass":1.071,"damping":1.071,"cost":40},{"mass":1.214,"damping":1.071,"cost":40},{"mass":1.357,"damping":1.071,"cost":34.5},{"mass":1.5,"damping":1.071,"cost":40},
        {"mass":0.5,"damping":0.929,"cost":40},{"mass":0.643,"damping":0.929,"cost":40},{"mass":0.786,"damping":0.929,"cost":40},{"mass":0.929,"damping":0.929,"cost":40},{"mass":1.071,"damping":0.929,"cost":40},{"mass":1.214,"damping":0.929,"cost":40},{"mass":1.357,"damping":0.929,"cost":40},{"mass":1.5,"damping":0.929,"cost":40},
        {"mass":0.5,"damping":0.786,"cost":40},{"mass":0.643,"damping":0.786,"cost":40},{"mass":0.786,"damping":0.786,"cost":40},{"mass":0.929,"damping":0.786,"cost":40},{"mass":1.071,"damping":0.786,"cost":40},{"mass":1.214,"damping":0.786,"cost":40},{"mass":1.357,"damping":0.786,"cost":40},{"mass":1.5,"damping":0.786,"cost":40},
        {"mass":0.5,"damping":0.643,"cost":40},{"mass":0.643,"damping":0.643,"cost":40},{"mass":0.786,"damping":0.643,"cost":40},{"mass":0.929,"damping":0.643,"cost":40},{"mass":1.071,"damping":0.643,"cost":40},{"mass":1.214,"damping":0.643,"cost":40},{"mass":1.357,"damping":0.643,"cost":40},{"mass":1.5,"damping":0.643,"cost":40},
        {"mass":0.5,"damping":0.5,"cost":40},{"mass":0.643,"damping":0.5,"cost":40},{"mass":0.786,"damping":0.5,"cost":40},{"mass":0.929,"damping":0.5,"cost":40},{"mass":1.071,"damping":0.5,"cost":40},{"mass":1.214,"damping":0.5,"cost":40},{"mass":1.357,"damping":0.5,"cost":40},{"mass":1.5,"damping":0.5,"cost":40}
      ]},
      "mark": "circle",
      "encoding": {
        "x": {"field": "mass", "type": "quantitative", "title": "Body mass", "scale": {"domain": [0.4, 1.6], "nice": false, "zero": false}, "axis": {"values": [0.4, 0.6, 0.8, 1.0, 1.2, 1.4, 1.6], "format": ".1f"}},
        "y": {"field": "damping", "type": "quantitative", "title": "DOF damping", "scale": {"domain": [0.4, 1.6], "nice": false, "zero": false}, "axis": {"values": [0.4, 0.6, 0.8, 1.0, 1.2, 1.4, 1.6], "format": ".1f"}},
        "color": {"field": "cost", "type": "quantitative", "scale": {"scheme": "viridis", "domain": [0, 40], "clamp": true}, "legend": {"title": null, "values": [0, 5, 10, 15, 20, 25, 30, 35, 40], "encode": {"labels": {"update": {"baseline": {"value": "middle"}, "dx": {"value": 6}}}}}}
      }
    },
    {
      "width": 304, "height": 283.5,
      "title": "Avg. cost of actnoise_0,17_task3",
      "data": {"values": [
        {"mass":0.5,"damping":1.5,"cost":40},{"mass":0.643,"damping":1.5,"cost":35.5},{"mass":0.786,"damping":1.5,"cost":37},{"mass":0.929,"damping":1.5,"cost":27.5},{"mass":1.071,"damping":1.5,"cost":22},{"mass":1.214,"damping":1.5,"cost":19},{"mass":1.357,"damping":1.5,"cost":26},{"mass":1.5,"damping":1.5,"cost":27.5},
        {"mass":0.5,"damping":1.357,"cost":31},{"mass":0.643,"damping":1.357,"cost":31.5},{"mass":0.786,"damping":1.357,"cost":27.5},{"mass":0.929,"damping":1.357,"cost":23},{"mass":1.071,"damping":1.357,"cost":18},{"mass":1.214,"damping":1.357,"cost":22.5},{"mass":1.357,"damping":1.357,"cost":25.5},{"mass":1.5,"damping":1.357,"cost":19},
        {"mass":0.5,"damping":1.214,"cost":40},{"mass":0.643,"damping":1.214,"cost":27.5},{"mass":0.786,"damping":1.214,"cost":28},{"mass":0.929,"damping":1.214,"cost":15.5},{"mass":1.071,"damping":1.214,"cost":17},{"mass":1.214,"damping":1.214,"cost":20},{"mass":1.357,"damping":1.214,"cost":16.5},{"mass":1.5,"damping":1.214,"cost":19},
        {"mass":0.5,"damping":1.071,"cost":36},{"mass":0.643,"damping":1.071,"cost":33},{"mass":0.786,"damping":1.071,"cost":21},{"mass":0.929,"damping":1.071,"cost":15},{"mass":1.071,"damping":1.071,"cost":22.5},{"mass":1.214,"damping":1.071,"cost":27.5},{"mass":1.357,"damping":1.071,"cost":22.5},{"mass":1.5,"damping":1.071,"cost":28},
        {"mass":0.5,"damping":0.929,"cost":27.5},{"mass":0.643,"damping":0.929,"cost":24},{"mass":0.786,"damping":0.929,"cost":21.5},{"mass":0.929,"damping":0.929,"cost":27},{"mass":1.071,"damping":0.929,"cost":23.5},{"mass":1.214,"damping":0.929,"cost":32},{"mass":1.357,"damping":0.929,"cost":31},{"mass":1.5,"damping":0.929,"cost":27.5},
        {"mass":0.5,"damping":0.786,"cost":25.5},{"mass":0.643,"damping":0.786,"cost":28.5},{"mass":0.786,"damping":0.786,"cost":22},{"mass":0.929,"damping":0.786,"cost":33},{"mass":1.071,"damping":0.786,"cost":31},{"mass":1.214,"damping":0.786,"cost":34.5},{"mass":1.357,"damping":0.786,"cost":40},{"mass":1.5,"damping":0.786,"cost":40},
        {"mass":0.5,"damping":0.643,"cost":40},{"mass":0.643,"damping":0.643,"cost":40},{"mass":0.786,"damping":0.643,"cost":40},{"mass":0.929,"damping":0.643,"cost":40},{"mass":1.071,"damping":0.643,"cost":40},{"mass":1.214,"damping":0.643,"cost":40},{"mass":1.357,"damping":0.643,"cost":40},{"mass":1.5,"damping":0.643,"cost":40},
        {"mass":0.5,"damping":0.5,"cost":40},{"mass":0.643,"damping":0.5,"cost":40},{"mass":0.786,"damping":0.5,"cost":40},{"mass":0.929,"damping":0.5,"cost":40},{"mass":1.071,"damping":0.5,"cost":40},{"mass":1.214,"damping":0.5,"cost":40},{"mass":1.357,"damping":0.5,"cost":40},{"mass":1.5,"damping":0.5,"cost":40}
      ]},
      "mark": "circle",
      "encoding": {
        "x": {"field": "mass", "type": "quantitative", "title": "Body mass", "scale": {"domain": [0.4, 1.6], "nice": false, "zero": false}, "axis": {"values": [0.4, 0.6, 0.8, 1.0, 1.2, 1.4, 1.6], "format": ".1f"}},
        "y": {"field": "damping", "type": "quantitative", "title": "DOF damping", "scale": {"domain": [0.4, 1.6], "nice": false, "zero": false}, "axis": {"values": [0.4, 0.6, 0.8, 1.0, 1.2, 1.4, 1.6], "format": ".1f"}},
        "color": {"field": "cost", "type": "quantitative", "scale": {"scheme": "viridis", "domain": [0, 40], "clamp": true}, "legend": {"title": null, "values": [0, 5, 10, 15, 20, 25, 30, 35, 40], "encode": {"labels": {"update": {"baseline": {"value": "middle"}, "dx": {"value": 6}}}}}}
      }
    }
  ]
}
